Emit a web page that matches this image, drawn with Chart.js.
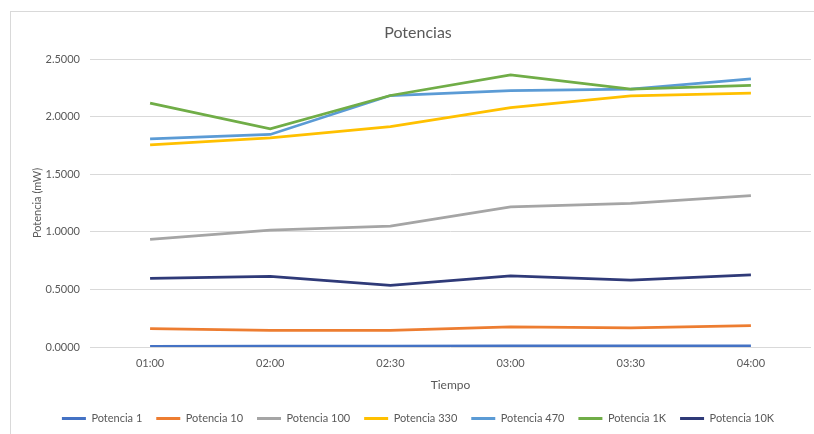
<!DOCTYPE html>
<html>
<head>
<meta charset="utf-8">
<script src="https://cdn.jsdelivr.net/npm/chart.js@4/dist/chart.umd.min.js"></script>
<style>
  html, body { margin: 0; padding: 0; background: #ffffff; }
  #wrap { position: relative; width: 814px; height: 434px; overflow: hidden; }
  #frame { position: absolute; left: 10px; top: 11px; width: 830px; height: 440px; border: 1px solid #d9d9d9; box-sizing: border-box; }
  canvas { position: absolute; left: 0; top: 0; }
</style>
</head>
<body>
<div id="wrap">
  <div id="frame"></div>
  <canvas id="c" width="814" height="434"></canvas>
</div>
<script>
// Time stamps on the category axis
const categories = ['01:00', '02:00', '02:30', '03:00', '03:30', '04:00'];

// Measured power (mW) for each load resistor
const potencia1   = [0.006, 0.008, 0.008, 0.009, 0.009, 0.009];
const potencia10  = [0.160, 0.145, 0.145, 0.174, 0.165, 0.186];
const potencia100 = [0.934, 1.015, 1.050, 1.217, 1.247, 1.313];
const potencia330 = [1.754, 1.815, 1.913, 2.078, 2.180, 2.203];
const potencia470 = [1.806, 1.845, 2.183, 2.226, 2.238, 2.328];
const potencia1K  = [2.117, 1.893, 2.183, 2.363, 2.238, 2.270];
const potencia10K = [0.595, 0.612, 0.534, 0.617, 0.580, 0.626];

const seriesNames  = ['Potencia 1', 'Potencia 10', 'Potencia 100', 'Potencia 330', 'Potencia 470', 'Potencia 1K', 'Potencia 10K'];
const seriesValues = [potencia1, potencia10, potencia100, potencia330, potencia470, potencia1K, potencia10K];
const seriesColors = ['#4472C4', '#ED7D31', '#A5A5A5', '#FFC000', '#5B9BD5', '#70AD47', '#2F3A78'];

const yTicks = [0, 0.5, 1.0, 1.5, 2.0, 2.5];

const textColor = '#595959';
const fontFamily = 'Lato, "Open Sans", sans-serif';

const datasets = seriesNames.map((name, i) => ({
  label: name,
  data: seriesValues[i],
  borderColor: seriesColors[i],
  backgroundColor: seriesColors[i],
  borderWidth: 2.75,
  pointRadius: 0,
  tension: 0,
  fill: false,
  // later series are painted over earlier ones
  order: seriesNames.length - i
}));

new Chart(document.getElementById('c'), {
  type: 'line',
  data: { labels: categories, datasets },
  options: {
    responsive: false,
    animation: false,
    devicePixelRatio: 1,
    layout: { padding: { left: 25, right: 3, top: 0, bottom: 0 } },
    plugins: {
      title: {
        display: true,
        text: 'Potencias',
        color: textColor,
        font: { family: fontFamily, size: 16, weight: 'normal' },
        padding: { top: 23.4, bottom: 16.4 }
      },
      legend: {
        position: 'bottom',
        labels: {
          color: textColor,
          font: { family: fontFamily, size: 11 },
          boxWidth: 24,
          boxHeight: 3,
          padding: 14,
          sort: (a, b) => a.datasetIndex - b.datasetIndex,
          generateLabels: (chart) => Chart.defaults.plugins.legend.labels.generateLabels(chart)
            .map(item => Object.assign(item, { lineWidth: 0, fillStyle: seriesColors[item.datasetIndex] }))
        }
      },
      tooltip: { enabled: false }
    },
    scales: {
      x: {
        offset: true,
        afterFit: (scale) => { scale.height = 52; },
        grid: { display: false, drawTicks: false },
        border: { display: false },
        ticks: { color: textColor, font: { family: fontFamily, size: 11 }, padding: 10, maxRotation: 0 },
        title: {
          display: true,
          text: 'Tiempo',
          color: textColor,
          font: { family: fontFamily, size: 12 },
          padding: { top: 0, bottom: 7 }
        }
      },
      y: {
        min: yTicks[0],
        max: yTicks[yTicks.length - 1],
        afterBuildTicks: (scale) => { scale.ticks = yTicks.map(v => ({ value: v })); },
        afterFit: (scale) => { scale.width = 65; },
        grid: { color: '#d9d9d9', lineWidth: 1, drawTicks: false },
        border: { display: false },
        ticks: {
          color: textColor,
          font: { family: fontFamily, size: 11 },
          padding: 10,
          callback: (v) => Number(v).toFixed(4)
        },
        title: {
          display: true,
          text: 'Potencia (mW)',
          color: textColor,
          font: { family: fontFamily, size: 11 },
          padding: { top: 5.4, bottom: 0 }
        }
      }
    }
  }
});
</script>
</body>
</html>
